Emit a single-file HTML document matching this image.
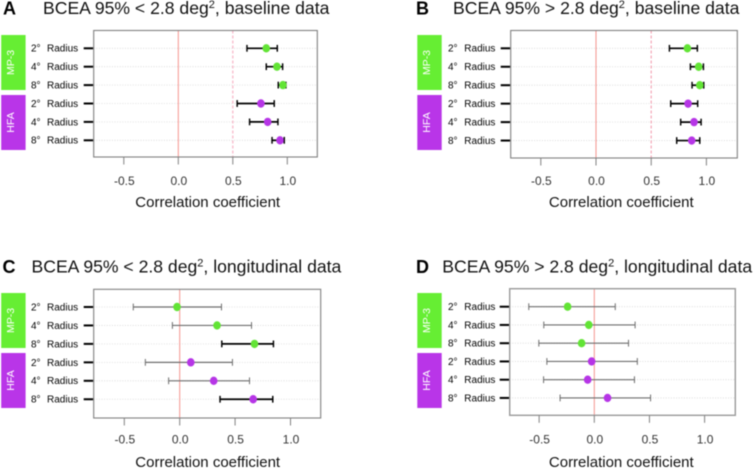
<!DOCTYPE html>
<html>
<head>
<meta charset="utf-8">
<title>BCEA correlation forest plots</title>
<style>
html,body{margin:0;padding:0;background:#fff;}
#figure{display:block;width:754px;height:469px;filter:blur(0.4px);font-family:"Liberation Sans",Arial,sans-serif;}
</style>
</head>
<body>
<svg id="figure" xmlns="http://www.w3.org/2000/svg" width="754" height="469" viewBox="0 0 754 469"></svg>
<script>
// Shared axis and row values
const xTickValues = [-0.5, 0, 0.5, 1];
const xTickLabels = ['-0.5', '0.0', '0.5', '1.0'];
const radiusLabels = ['2°', '4°', '8°', '2°', '4°', '8°'];

// Panel A
const panelAMean = [0.807, 0.905, 0.96, 0.758, 0.82, 0.933];
const panelALower = [0.63, 0.807, 0.917, 0.54, 0.654, 0.86];
const panelAUpper = [0.908, 0.957, 0.987, 0.88, 0.914, 0.972];

// Panel B
const panelBMean = [0.828, 0.93, 0.94, 0.834, 0.888, 0.867];
const panelBLower = [0.665, 0.855, 0.87, 0.677, 0.767, 0.731];
const panelBUpper = [0.918, 0.973, 0.976, 0.921, 0.952, 0.94];

// Panel C
const panelCMean = [-0.024, 0.337, 0.675, 0.1, 0.307, 0.663];
const panelCLower = [-0.419, -0.066, 0.38, -0.31, -0.1, 0.364];
const panelCUpper = [0.377, 0.648, 0.846, 0.476, 0.63, 0.84];

// Panel D
const panelDMean = [-0.242, -0.05, -0.115, -0.024, -0.06, 0.12];
const panelDLower = [-0.594, -0.458, -0.503, -0.43, -0.46, -0.31];
const panelDUpper = [0.19, 0.37, 0.31, 0.39, 0.364, 0.51];

const panels = [
  {id:'a', letter:'A', before:'BCEA 95% < 2.8 deg', after:', baseline data', mean:panelAMean, lower:panelALower, upper:panelAUpper,
   letterX:3, titleX:43, titleY:14, left:93.7, right:317.3, top:30.5, bottom:157, zero:178.3, unit:109, row0:48.3, step:18.4,
   tagX:1.2, tagY:35, labelX:31, nameX:47, tickY:185, axisY:207, axisX:207.7, dash:'3 2', dashColor:'#f8b9ca', dashW:1.3, frame:'#808080', frameW:1.1},
  {id:'b', letter:'B', before:'BCEA 95% > 2.8 deg', after:', baseline data', mean:panelBMean, lower:panelBLower, upper:panelBUpper,
   letterX:416, titleX:453, titleY:14, left:510.7, right:737.3, top:30.5, bottom:158, zero:596, unit:110.4, row0:48.3, step:18.45,
   tagX:417.3, tagY:35, labelX:448, nameX:464.3, tickY:185, axisY:207, axisX:621.3, dash:'3 2', dashColor:'#f28ba0', dashW:0.9, frame:'#808080', frameW:1.1},
  {id:'c', letter:'C', before:'BCEA 95% < 2.8 deg', after:', longitudinal data', mean:panelCMean, lower:panelCLower, upper:panelCUpper,
   letterX:2.5, titleX:31.5, titleY:272.5, left:93.7, right:320.7, top:289.3, bottom:418, zero:179.7, unit:110.8, row0:307, step:18.45,
   tagX:1.2, tagY:293, labelX:31, nameX:47, tickY:443.3, axisY:467, axisX:207.7, dash:null, frame:'#808080', frameW:1.1},
  {id:'d', letter:'D', before:'BCEA 95% > 2.8 deg', after:', longitudinal data', mean:panelDMean, lower:panelDLower, upper:panelDUpper,
   letterX:416, titleX:442.3, titleY:272.5, left:509.7, right:735.3, top:288.7, bottom:415.3, zero:594.3, unit:110.3, row0:306.7, step:18.25,
   tagX:417.3, tagY:293, labelX:448, nameX:464.3, tickY:443.3, axisY:467, axisX:621.3, dash:null, frame:'#9a9a9a', frameW:1.4}
];

const svg = document.getElementById('figure');
const NS = 'http://www.w3.org/2000/svg';

function make(parent, tag, attrs, content) {
  const el = document.createElementNS(NS, tag);
  for (const k in attrs) el.setAttribute(k, attrs[k]);
  if (content !== undefined) el.textContent = content;
  parent.appendChild(el);
  return el;
}

panels.forEach(function (p) {
  const xScale = function (v) { return p.zero + v * p.unit; };
  const yScale = function (i) { return p.row0 + i * p.step; };

  const group = make(svg, 'g', {});
  
  

  const letter = make(group, 'text', {x:p.letterX, y:p.titleY + 0.5, 'font-size':18, 'font-weight':'bold', fill:'#000'}, p.letter);
  
  

  const title = make(group, 'text', {x:p.titleX, y:p.titleY, 'font-size':17.6, fill:'#111'}, p.before);
  
  
  make(title, 'tspan', {dy:-6, 'font-size':11}, '2');
  make(title, 'tspan', {dy:6}, p.after);

  // Group tags
  [['MP-3', '#66ee33', 0], ['HFA', '#b935e8', 60]].forEach(function (t) {
    const tag = make(group, 'rect', {x:p.tagX, y:p.tagY + t[2], width:24.4, height:55, fill:t[1]});
    
    
    const cx = p.tagX + 12.9, cy = p.tagY + t[2] + 27.5;
    const tagText = make(group, 'text', {x:cx, y:cy, 'font-size':10.5, fill:'#fff', 'text-anchor':'middle', transform:'rotate(-90 ' + cx + ' ' + cy + ')'}, t[0]);
    
    
  });

  // Row guides, ticks and labels
  radiusLabels.forEach(function (label, i) {
    const y = yScale(i);
    const guide = make(group, 'line', {x1:p.left, x2:p.right, y1:y, y2:y, stroke:'#d8d8d8', 'stroke-width':0.8, 'stroke-dasharray':'1 1.6'});
    
    
    const tick = make(group, 'line', {x1:p.left - 10, x2:p.left - 0.5, y1:y, y2:y, stroke:'#000', 'stroke-width':2});
    
    
    const deg = make(group, 'text', {x:p.labelX, y:y + 3.4, 'font-size':10, fill:'#000'}, label);
    
    
    const name = make(group, 'text', {x:p.nameX, y:y + 3.4, 'font-size':10, fill:'#000'}, 'Radius');
    
    
  });

  // Reference lines
  const zeroLine = make(group, 'line', {x1:xScale(0), x2:xScale(0), y1:p.top, y2:p.bottom, stroke:'#f4938e', 'stroke-width':1});
  
  
  if (p.dash) {
    const halfLine = make(group, 'line', {x1:xScale(0.5), x2:xScale(0.5), y1:p.top, y2:p.bottom, stroke:p.dashColor, 'stroke-width':p.dashW, 'stroke-dasharray':p.dash});
    
    
  }

  // Frame
  const frame = make(group, 'rect', {x:p.left, y:p.top, width:p.right - p.left, height:p.bottom - p.top, fill:'none', stroke:p.frame, 'stroke-width':p.frameW});
  
  

  // X axis
  xTickValues.forEach(function (v, i) {
    const x = xScale(v);
    const tick = make(group, 'line', {x1:x, x2:x, y1:p.bottom, y2:p.bottom + 7.5, stroke:'#808080', 'stroke-width':1});
    
    
    const label = make(group, 'text', {x:x + 0.5, y:p.tickY, 'font-size':12, fill:'#333', 'text-anchor':'middle'}, xTickLabels[i]);
    
    
  });
  const axisTitle = make(group, 'text', {x:p.axisX, y:p.axisY, 'font-size':15, fill:'#111', 'text-anchor':'middle'}, 'Correlation coefficient');
  
  

  // Series marks
  p.mean.forEach(function (m, i) {
    const y = yScale(i);
    const lo = xScale(p.lower[i]);
    const hi = xScale(p.upper[i]);
    const strong = p.lower[i] > 0;
    const color = strong ? '#000' : '#6e6e6e';
    const width = strong ? 1.7 : 1.2;
    const bar = make(group, 'line', {x1:lo, x2:hi, y1:y, y2:y, stroke:color, 'stroke-width':width});
    
    
    const capLo = make(group, 'line', {x1:lo, x2:lo, y1:y - 3.4, y2:y + 3.4, stroke:color, 'stroke-width':width * 0.85});
    
    
    const capHi = make(group, 'line', {x1:hi, x2:hi, y1:y - 3.4, y2:y + 3.4, stroke:color, 'stroke-width':width * 0.85});
    
    
    const point = make(group, 'ellipse', {cx:xScale(m), cy:y, rx:3.8, ry:4.2, fill:i < 3 ? '#62e435' : '#b635e6'});
    
    
  });
});
</script>
</body>
</html>
